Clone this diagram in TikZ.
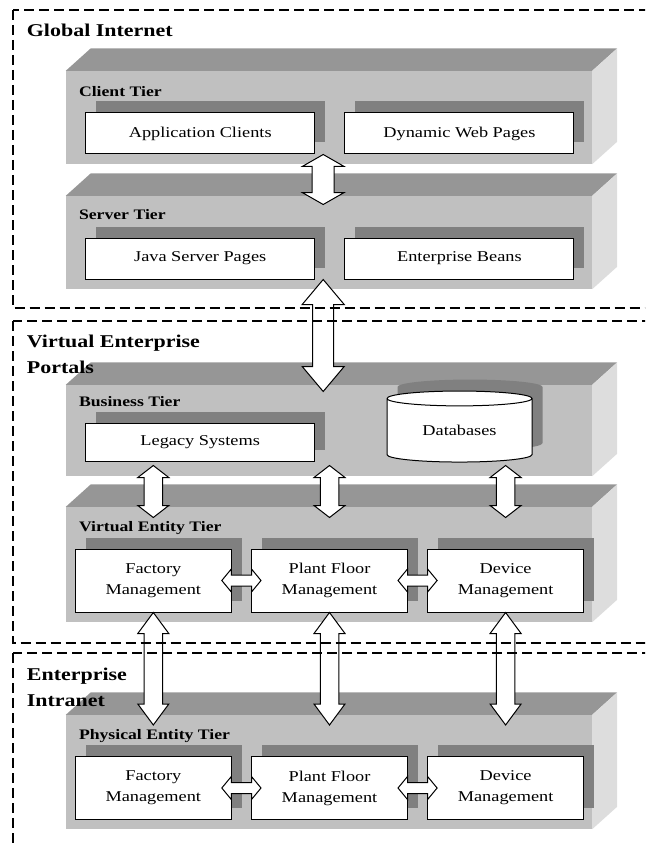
\documentclass[tikz,border=0pt]{standalone}
\usepackage{fontspec}
\setmainfont{Liberation Serif}[FakeStretch=1.22]
\usetikzlibrary{calc,shapes.geometric,shadows}

\definecolor{tierfront}{HTML}{C0C0C0}
\definecolor{tiertop}{HTML}{969696}
\definecolor{tierside}{HTML}{DDDDDD}
\definecolor{boxshade}{HTML}{808080}

% slab of one tier: front face, top face, right face
\newcommand\tierslab[3]{%
  \node[front, minimum height=#3] (#1) at #2 {};
  \fill[tiertop] (#1.north west) -- ++(25,-22.5) -- ($(#1.north east)+(25,-22.5)$) -- (#1.north east) -- cycle;
  \fill[tierside] (#1.north east) -- ++(25,-22.5) -- ($(#1.south east)+(25,-22.5)$) -- (#1.south east) -- cycle;}

% block arrows: tips, shaft half width, head half width, head length
\newcommand\vblock[5]{%
  \filldraw[blockarrow] let \p1=#1, \p2=#2 in
    (\x1,\y1) -- (\x1+#4pt,\y1-#5pt) -- (\x1+#3pt,\y1-#5pt) -- (\x1+#3pt,\y2+#5pt) -- (\x1+#4pt,\y2+#5pt)
    -- (\x1,\y2) -- (\x1-#4pt,\y2+#5pt) -- (\x1-#3pt,\y2+#5pt) -- (\x1-#3pt,\y1-#5pt) -- (\x1-#4pt,\y1-#5pt) -- cycle;}
\newcommand\hblock[5]{%
  \filldraw[blockarrow] let \p1=#1, \p2=#2 in
    (\x1,\y1) -- (\x1+#5pt,\y1+#4pt) -- (\x1+#5pt,\y1+#3pt) -- (\x2-#5pt,\y1+#3pt) -- (\x2-#5pt,\y1+#4pt)
    -- (\x2,\y1) -- (\x2-#5pt,\y1-#4pt) -- (\x2-#5pt,\y1-#3pt) -- (\x1+#5pt,\y1-#3pt) -- (\x1+#5pt,\y1-#4pt) -- cycle;}

\begin{document}
\begin{tikzpicture}[x=1pt,y=-1pt,
	front/.style={fill=tierfront, minimum width=526, inner sep=0},
	comp/.style={draw, line width=1pt, fill=white, minimum width=229, minimum height=41, inner sep=0,
		align=center, font=\fontsize{15}{21}\selectfont,
		drop shadow={shadow xshift=10.5pt, shadow yshift=11.5pt, fill=boxshade, opacity=1}},
	unit/.style={comp, minimum width=156, minimum height=63},
	tierlabel/.style={anchor=base west, inner sep=0, font=\fontsize{14.5}{16}\selectfont\bfseries},
	zonelabel/.style={anchor=base west, inner sep=0, align=left, font=\fontsize{18}{25.5}\selectfont\bfseries},
	zone/.style={draw, line width=2pt, dash pattern=on 10pt off 5pt},
	blockarrow/.style={fill=white, draw, line width=1pt, line join=miter}]
	\useasboundingbox (0,0) rectangle (645,845);
	\clip (0,0) rectangle (645,845);
	
	% tiers
	\tierslab{client}{(329,117.5)}{93}
	\tierslab{server}{(329,242.5)}{93}
	\tierslab{business}{(329,430.5)}{91}
	\tierslab{virtual}{(329,564.5)}{115}
	\tierslab{physical}{(329,772)}{114}
	
	\node[tierlabel] (client-lbl) at ($(client.north west)+(13,26)$) {Client Tier};
	\node[tierlabel] (server-lbl) at ($(server.north west)+(13,24)$) {Server Tier};
	\node[tierlabel] (business-lbl) at ($(business.north west)+(13,22)$) {Business Tier};
	\node[tierlabel] (virtual-lbl) at ($(virtual.north west)+(13,24.5)$) {Virtual Entity Tier};
	\node[tierlabel] (physical-lbl) at ($(physical.north west)+(13,25)$) {Physical Entity Tier};
	
	% components
	\node[comp] (app) at (200.2,133.5) {Application Clients};
	\node[comp] (dyn) at (459.4,133.5) {Dynamic Web Pages};
	\node[comp] (jsp) at (200.2,258.5) {Java Server Pages};
	\node[comp] (ejb) at (459.4,258.5) {Enterprise Beans};
	\node[comp, minimum height=38] (legacy) at (200.2,442) {Legacy Systems};
	\node[comp, cylinder, shape border rotate=90, aspect=0.2, minimum width=145, minimum height=71] (db) at (459.5,430.5) {Databases};
	
	\node[unit] (vfac) at (153.3,580.5) {Factory\\Management};
	\node[unit] (vplant) at (329.5,580.5) {Plant Floor\\Management};
	\node[unit] (vdev) at (505.6,580.5) {Device\\Management};
	\node[unit] (pfac) at (153.3,788) {Factory\\Management};
	\node[unit] (pplant) at (329.5,788) {Plant Floor\\Management};
	\node[unit] (pdev) at (505.6,788) {Device\\Management};
	
	% block arrows
	\vblock{($(app.south east)+(8,0)$)}{($(jsp.north east)+(8,-33)$)}{11}{21}{12}
	\vblock{($(jsp.south east)+(8,0)$)}{($(legacy.north east)+(8,-31)$)}{10.5}{21}{25}
	\foreach \up/\down in {vfac/pfac, vplant/pplant, vdev/pdev}{
		\vblock{($(\up.north |- legacy.south)+(0,4)$)}{($(\up.north)+(0,-31)$)}{9.25}{15.5}{12}
		\vblock{(\up.south)}{($(\down.north)+(0,-31)$)}{9.25}{15.5}{21}
	}
	\hblock{($(vfac.east)+(-10,0)$)}{($(vplant.west)+(10,0)$)}{5.5}{11.5}{9.5}
	\hblock{($(vplant.east)+(-10,0)$)}{($(vdev.west)+(10,0)$)}{5.5}{11.5}{9.5}
	\hblock{($(pfac.east)+(-10,0)$)}{($(pplant.west)+(10,0)$)}{5.5}{11.5}{9.5}
	\hblock{($(pplant.east)+(-10,0)$)}{($(pdev.west)+(10,0)$)}{5.5}{11.5}{9.5}
	
	% zones
	\node[zonelabel] (inet) at (26.7,37) {Global Internet};
	\node[zonelabel] (portal) at (26.7,373) {Virtual Enterprise\\Portals};
	\node[zonelabel] (intra) at (26.7,706) {Enterprise\\Intranet};
	\draw[zone] (12.5,10) rectangle (700,308);
	\draw[zone] (12.5,321) rectangle (700,643);
	\draw[zone] (12.5,653) rectangle (700,900);
\end{tikzpicture}
\end{document}
